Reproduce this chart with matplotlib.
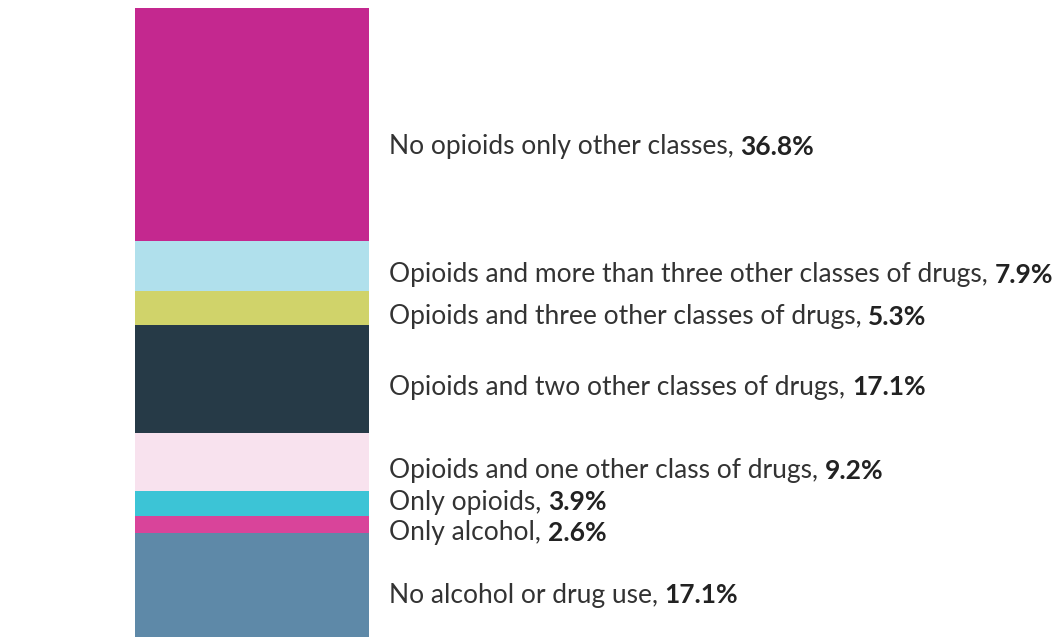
import matplotlib
matplotlib.use("Agg")
import matplotlib.pyplot as plt

# Data (bottom to top)
categories = [
    "No alcohol or drug use",
    "Only alcohol",
    "Only opioids",
    "Opioids and one other class of drugs",
    "Opioids and two other classes of drugs",
    "Opioids and three other classes of drugs",
    "Opioids and more than three other classes of drugs",
    "No opioids only other classes",
]
values = [17.1, 2.6, 3.9, 9.2, 17.1, 5.3, 7.9, 36.8]
colors = ["#5E89A8", "#D9449A", "#3CC4D6", "#F8E2EE",
          "#263A47", "#D0D36A", "#B0E0EC", "#C4288F"]

W, H = 1060, 637
fig = plt.figure(figsize=(W / 100, H / 100), dpi=100)
bar_left, bar_right, bar_top, bar_bottom = 135, 369, 8, 641
ax = fig.add_axes([bar_left / W, (H - bar_bottom) / H,
                   (W - bar_left) / W, (bar_bottom - bar_top) / H])
total = sum(values)
ax.set_ylim(0, total)
ax.set_xlim(0, (W - bar_left) / (bar_right - bar_left))
ax.axis("off")

bottom = 0
centers = []
for v, c in zip(values, colors):
    ax.bar(0, v, width=1, bottom=bottom, color=c, align="edge", linewidth=0)
    centers.append(bottom + v / 2)
    bottom += v

# label placement: center with slight downward offset, then push crowded labels upward
px_per_unit = (bar_bottom - bar_top) / total
offset = -8.5 / px_per_unit
min_gap = 30.5 / px_per_unit
ys = [c + offset for c in centers]
ys[-1] -= 13.5 / px_per_unit
for i in range(1, len(ys)):
    if ys[i] - ys[i - 1] < min_gap:
        ys[i] = ys[i - 1] + min_gap

font = "Lato"
fs = 19
xlab = 1 + 20 / (bar_right - bar_left)
fig.canvas.draw()
inv = ax.transData.inverted()
for cat, v, y in zip(categories, values, ys):
    t = ax.text(xlab, y, f"{cat}, ", va="center", ha="left", fontsize=fs,
                family=font, color="#333333")
    bb = t.get_window_extent(renderer=fig.canvas.get_renderer())
    x_end = inv.transform((bb.x1, bb.y0))[0]
    ax.text(x_end, y, f"{v}%", va="center", ha="left", fontsize=fs,
            family=font, fontweight="bold", color="#222222")

fig.savefig("out.png", dpi=100)
